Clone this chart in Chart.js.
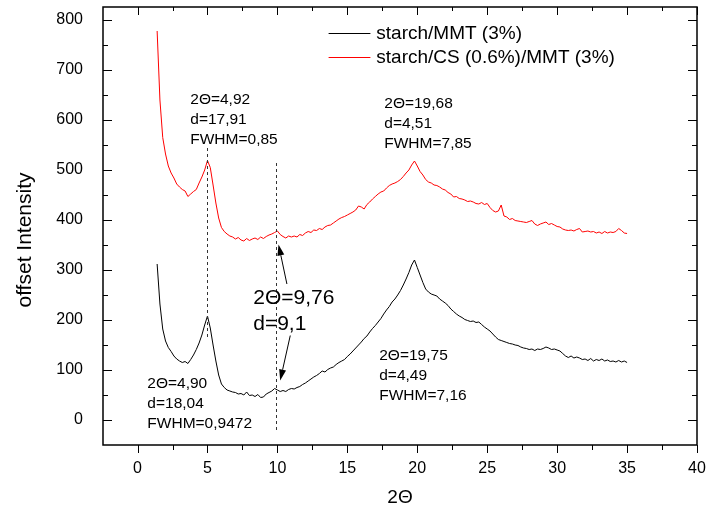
<!DOCTYPE html>
<html>
<head>
<meta charset="utf-8">
<title>XRD patterns</title>
<script src="https://cdn.jsdelivr.net/npm/chart.js@4.4.0/dist/chart.umd.min.js"></script>
<style>
  html, body { margin: 0; padding: 0; background: #fff; }
  #wrap { width: 707px; height: 512px; }
</style>
</head>
<body>
<div id="wrap"><canvas id="xrd" width="707" height="512"></canvas></div>
<script>
// Diffraction angle 2Θ (degrees)
const twoTheta = [
  1.4, 1.6, 1.8, 2.0, 2.2, 2.4, 2.6, 2.8, 3.0, 3.2,
  3.4, 3.6, 3.8, 4.0, 4.2, 4.4, 4.6, 4.8, 5.0, 5.2,
  5.4, 5.6, 5.8, 6.0, 6.2, 6.4, 6.6, 6.8, 7.0, 7.2,
  7.4, 7.6, 7.8, 8.0, 8.2, 8.4, 8.6, 8.8, 9.0, 9.2,
  9.4, 9.6, 9.8, 10.0, 10.2, 10.4, 10.6, 10.8, 11.0, 11.2,
  11.4, 11.6, 11.8, 12.0, 12.2, 12.4, 12.6, 12.8, 13.0, 13.2,
  13.4, 13.6, 13.8, 14.0, 14.2, 14.4, 14.6, 14.8, 15.0, 15.2,
  15.4, 15.6, 15.8, 16.0, 16.2, 16.4, 16.6, 16.8, 17.0, 17.2,
  17.4, 17.6, 17.8, 18.0, 18.2, 18.4, 18.6, 18.8, 19.0, 19.2,
  19.4, 19.6, 19.8, 20.0, 20.2, 20.4, 20.6, 20.8, 21.0, 21.2,
  21.4, 21.6, 21.8, 22.0, 22.2, 22.4, 22.6, 22.8, 23.0, 23.2,
  23.4, 23.6, 23.8, 24.0, 24.2, 24.4, 24.6, 24.8, 25.0, 25.2,
  25.4, 25.6, 25.8, 26.0, 26.2, 26.4, 26.6, 26.8, 27.0, 27.2,
  27.4, 27.6, 27.8, 28.0, 28.2, 28.4, 28.6, 28.8, 29.0, 29.2,
  29.4, 29.6, 29.8, 30.0, 30.2, 30.4, 30.6, 30.8, 31.0, 31.2,
  31.4, 31.6, 31.8, 32.0, 32.2, 32.4, 32.6, 32.8, 33.0, 33.2,
  33.4, 33.6, 33.8, 34.0, 34.2, 34.4, 34.6, 34.8, 35.0
];

// starch/MMT (3%) — offset intensity
const starchMMT = [
  312, 232, 182, 158, 145, 137, 128, 122, 118, 115,
  117, 113, 121, 130, 141, 154, 170, 190, 208, 184,
  150, 118, 90, 72, 65, 60, 58, 56, 55, 52,
  53, 50, 56, 49, 50, 47, 51, 45, 46, 52,
  55, 58, 63, 60, 57, 59, 57, 61, 63, 62,
  65, 67, 71, 74, 78, 82, 86, 89, 93, 98,
  96, 101, 104, 106, 111, 115, 118, 121, 127, 132,
  138, 144, 150, 156, 163, 168, 176, 183, 189, 196,
  203, 212, 220, 227, 236, 242, 250, 259, 270, 282,
  295, 310, 320, 305, 290, 275, 262, 256, 252, 250,
  248, 242, 238, 234, 229, 222, 217, 212, 208, 205,
  201, 199, 197, 198, 195, 196, 191, 186, 182, 178,
  172, 166, 161, 159, 157, 155, 153, 152, 150, 149,
  146, 144, 143, 141, 142, 139, 142, 141, 143, 146,
  144, 141, 142, 140, 138, 133, 128, 125, 128, 124,
  126, 124, 121, 122, 119, 123, 118, 121, 119, 122,
  118, 120, 117, 118, 116, 119, 116, 118, 115
];

// starch/CS (0.6%)/MMT (3%) — offset intensity
const starchCsMMT = [
  778, 640, 565, 532, 508, 494, 484, 472, 466, 461,
  458, 447, 452, 457, 461, 474, 486, 500, 519, 505,
  470, 434, 404, 385, 377, 372, 368, 366, 362, 365,
  360, 358, 363, 359, 362, 364, 361, 366, 363, 367,
  370, 372, 375, 378, 371, 367, 364, 368, 366, 368,
  366, 371, 369, 374, 377, 375, 380, 379, 383, 381,
  386, 389, 390, 394, 398, 402, 405, 407, 410, 413,
  416, 420, 428, 426, 422, 431, 436, 442, 447, 452,
  456, 458, 464, 469, 472, 474, 477, 481, 487, 494,
  500, 510, 518, 508, 497, 490, 481, 476, 474, 470,
  469, 466, 462, 460, 455, 452, 446, 447, 443, 442,
  440, 437, 438, 436, 433, 432, 435, 431, 433, 425,
  419, 416, 418, 430, 408, 406, 401, 403, 399, 398,
  397, 396, 395, 397, 399, 392, 389, 392, 394, 396,
  391, 393, 390, 387, 386, 382, 380, 379, 380, 378,
  381, 383, 376, 377, 378, 376, 377, 374, 376, 373,
  377, 374, 376, 375, 377, 383, 379, 374, 373
];

const seriesNames = ['starch/MMT (3%)', 'starch/CS (0.6%)/MMT (3%)'];
const xTickLabels = [0, 5, 10, 15, 20, 25, 30, 35, 40];
const yTickLabels = [0, 100, 200, 300, 400, 500, 600, 700, 800];

// Peak annotations (anchored in data coordinates)
const peakNotes = [
  { x: 3.77, y: 640, size: 15.5, gap: 20, lines: ['2\u0398=4,92', 'd=17,91', 'FWHM=0,85'] },
  { x: 17.64, y: 632, size: 15.5, gap: 20, lines: ['2\u0398=19,68', 'd=4,51', 'FWHM=7,85'] },
  { x: 0.70, y: 73, size: 15.5, gap: 20, lines: ['2\u0398=4,90', 'd=18,04', 'FWHM=0,9472'] },
  { x: 17.28, y: 129, size: 15.5, gap: 20, lines: ['2\u0398=19,75', 'd=4,49', 'FWHM=7,16'] },
  { x: 8.27, y: 243, size: 21, gap: 26, lines: ['2\u0398=9,76', 'd=9,1'] }
];
const markerLines = [
  { x: 4.98, from: 544, to: 165 },
  { x: 9.93, from: 514, to: -25 }
];
const arrows = [
  { from: [10.68, 272], to: [10.08, 351] },
  { from: [10.92, 169], to: [10.20, 79] }
];

const FONT = "'Liberation Sans', Arial, Helvetica, sans-serif";

const decor = {
  id: 'decor',
  afterDraw(chart) {
    const { ctx, chartArea: a } = chart;
    const xs = chart.scales.x, ys = chart.scales.y;
    const X = v => xs.getPixelForValue(v);
    const Y = v => ys.getPixelForValue(v);
    ctx.save();

    // dashed marker lines at the low-angle reflections
    ctx.strokeStyle = '#333';
    ctx.lineWidth = 1;
    ctx.setLineDash([3, 3]);
    markerLines.forEach(m => {
      const px = Math.round(X(m.x)) + 0.5;
      ctx.beginPath();
      ctx.moveTo(px, Y(m.from));
      ctx.lineTo(px, Y(m.to));
      ctx.stroke();
    });
    ctx.setLineDash([]);

    // arrows pointing at the 9.76° reflection
    ctx.strokeStyle = '#000';
    ctx.fillStyle = '#000';
    arrows.forEach(ar => {
      const x0 = X(ar.from[0]), y0 = Y(ar.from[1]);
      const x1 = X(ar.to[0]), y1 = Y(ar.to[1]);
      const ang = Math.atan2(y1 - y0, x1 - x0);
      const len = 11, half = 3.5;
      const bx = x1 - len * Math.cos(ang), by = y1 - len * Math.sin(ang);
      ctx.beginPath();
      ctx.moveTo(x0, y0);
      ctx.lineTo(bx, by);
      ctx.stroke();
      ctx.beginPath();
      ctx.moveTo(x1, y1);
      ctx.lineTo(bx + half * Math.sin(ang), by - half * Math.cos(ang));
      ctx.lineTo(bx - half * Math.sin(ang), by + half * Math.cos(ang));
      ctx.closePath();
      ctx.fill();
    });

    // peak labels
    ctx.textAlign = 'left';
    ctx.textBaseline = 'middle';
    peakNotes.forEach(n => {
      ctx.font = n.size + 'px ' + FONT;
      const px = X(n.x), py = Y(n.y);
      n.lines.forEach((t, i) => ctx.fillText(t, px, py + i * n.gap));
    });

    // legend
    ctx.font = '19px ' + FONT;
    const legendRows = [774, 726];
    chart.data.datasets.forEach((ds, i) => {
      const py = Math.round(Y(legendRows[i])) + 0.5;
      ctx.strokeStyle = ds.borderColor;
      ctx.lineWidth = 1;
      ctx.beginPath();
      ctx.moveTo(X(13.66), py);
      ctx.lineTo(X(16.65), py);
      ctx.stroke();
      ctx.fillStyle = '#000';
      ctx.fillText(ds.label, X(17.07), py);
    });

    // frame
    ctx.strokeStyle = '#000';
    ctx.lineWidth = 1.5;
    ctx.strokeRect(a.left, a.top, a.right - a.left, a.bottom - a.top);

    // tick marks: bottom outward, top / left / right inward
    ctx.lineWidth = 1;
    ctx.beginPath();
    xTickLabels.forEach(v => {
      const px = Math.round(X(v)) + 0.5;
      ctx.moveTo(px, a.bottom); ctx.lineTo(px, a.bottom + 8);
      ctx.moveTo(px, a.top); ctx.lineTo(px, a.top + 8);
      const m = v + 2.5;
      if (m < xs.max) {
        const pm = Math.round(X(m)) + 0.5;
        ctx.moveTo(pm, a.bottom); ctx.lineTo(pm, a.bottom + 5);
        ctx.moveTo(pm, a.top); ctx.lineTo(pm, a.top + 4);
      }
    });
    yTickLabels.forEach(v => {
      const py = Math.round(Y(v)) + 0.5;
      ctx.moveTo(a.left, py); ctx.lineTo(a.left + 9, py);
      ctx.moveTo(a.right, py); ctx.lineTo(a.right - 9, py);
      [v - 50, v + 50].forEach(m => {
        if (m > ys.min && m < ys.max && (m !== v - 50 || v === 0)) {
          const pm = Math.round(Y(m)) + 0.5;
          ctx.moveTo(a.left, pm); ctx.lineTo(a.left + 5, pm);
          ctx.moveTo(a.right, pm); ctx.lineTo(a.right - 5, pm);
        }
      });
    });
    ctx.stroke();

    // axis titles
    ctx.fillStyle = '#000';
    ctx.textAlign = 'center';
    ctx.textBaseline = 'middle';
    ctx.font = '19px ' + FONT;
    ctx.fillText('2\u0398', (a.left + a.right) / 2, 498);
    ctx.save();
    ctx.translate(25, 240);
    ctx.rotate(-Math.PI / 2);
    ctx.font = '21px ' + FONT;
    ctx.fillText('offset Intensity', 0, 0);
    ctx.restore();

    ctx.restore();
  }
};

// fixed plot box: no extra room reserved for overhanging edge labels
function noOverhang(s) {
  s.paddingTop = 0; s.paddingBottom = 0; s.paddingLeft = 0; s.paddingRight = 0;
}

new Chart(document.getElementById('xrd'), {
  type: 'line',
  data: {
    datasets: [
      {
        label: seriesNames[0],
        data: twoTheta.map((t, i) => ({ x: t, y: starchMMT[i] })),
        borderColor: '#000000',
        borderWidth: 1,
        pointRadius: 0,
        tension: 0
      },
      {
        label: seriesNames[1],
        data: twoTheta.map((t, i) => ({ x: t, y: starchCsMMT[i] })),
        borderColor: '#ff0000',
        borderWidth: 1,
        pointRadius: 0,
        tension: 0
      }
    ]
  },
  options: {
    responsive: false,
    animation: false,
    layout: { padding: { left: 0, right: 10, top: 7, bottom: 0 } },
    plugins: { legend: { display: false }, tooltip: { enabled: false } },
    scales: {
      x: {
        type: 'linear',
        min: -2.47,
        max: 40,
        grid: { display: false, drawTicks: false },
        border: { display: false },
        afterBuildTicks: s => { s.ticks = xTickLabels.map(v => ({ value: v })); },
        afterFit: s => { s.height = 67; noOverhang(s); },
        ticks: { color: '#000', padding: 14, maxRotation: 0, font: { family: FONT, size: 16 } }
      },
      y: {
        type: 'linear',
        min: -50,
        max: 826,
        grid: { display: false, drawTicks: false },
        border: { display: false },
        afterBuildTicks: s => { s.ticks = yTickLabels.map(v => ({ value: v })); },
        afterFit: s => { s.width = 103; noOverhang(s); },
        ticks: { color: '#000', padding: 20, font: { family: FONT, size: 16 } }
      }
    }
  },
  plugins: [decor]
});
</script>
</body>
</html>
